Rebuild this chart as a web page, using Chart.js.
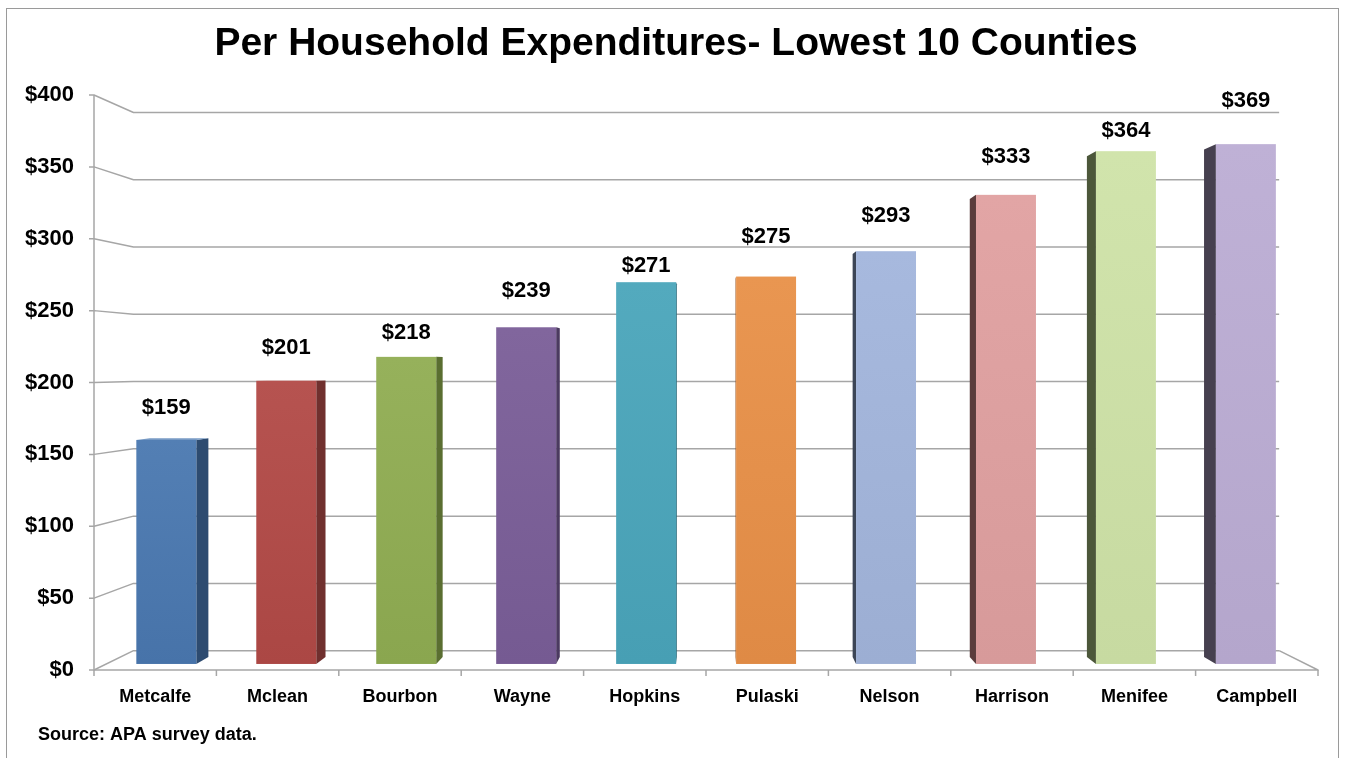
<!DOCTYPE html>
<html>
<head>
<meta charset="utf-8">
<title>Per Household Expenditures</title>
<script src="https://cdn.jsdelivr.net/npm/chart.js@4.4.1/dist/chart.umd.min.js"></script>
<style>
  html, body { margin: 0; padding: 0; background: #fff; }
  canvas { display: block; }
</style>
</head>
<body>
<canvas id="chart_exp" width="1348" height="758"></canvas>
<script>
var counties = ["Metcalfe", "Mclean", "Bourbon", "Wayne", "Hopkins",
  "Pulaski", "Nelson", "Harrison", "Menifee", "Campbell"];
var expenditures = [159, 201, 218, 239, 271, 275, 293, 333, 364, 369];
var yMin = 0;
var yMax = 400;
var yStep = 50;

var chartTitle = "Per Household Expenditures- Lowest 10 Counties";
var sourceNote = "Source: APA survey data.";

// office-style palette, front face and the shaded side
var faceColors = ["#4a78b0", "#b24a47", "#90ad52", "#7a5e98", "#4aa6bb",
  "#e89048", "#a2b5dc", "#e0a0a0", "#cfe3a8", "#bcadd4"];
var sideColors = ["#2d4b70", "#70302e", "#5a6e31", "#4b3a60", "#2d6a7a",
  "#9a5a28", "#3c4556", "#5a3c3c", "#4c573a", "#46404f"];
// how far each value label sits above its bar (px)
var labelLift = [32, 33, 24, 36, 16, 40, 35, 38, 20, 43];

var FONT = '"Liberation Sans", Arial, sans-serif';
Chart.defaults.font.family = FONT;
Chart.defaults.color = "#000";

// depth of each plane relative to the front of the plot
var FACE = 0.98, BACK = 0.957, WALL = 0.936;
var vx = 0, vy = 0;

function proj(x, y, r) {
  return [vx + r * (x - vx), vy + r * (y - vy)];
}

function shade(hex, f) {
  var n = parseInt(hex.slice(1), 16);
  var c = [(n >> 16) & 255, (n >> 8) & 255, n & 255].map(function (v) {
    v = f > 0 ? v + (255 - v) * f : v * (1 + f);
    return Math.round(Math.max(0, Math.min(255, v)));
  });
  return "rgb(" + c.join(",") + ")";
}

function poly(ctx, pts, fill) {
  ctx.beginPath();
  ctx.moveTo(pts[0][0], pts[0][1]);
  for (var i = 1; i < pts.length; i++) ctx.lineTo(pts[i][0], pts[i][1]);
  ctx.closePath();
  ctx.fillStyle = fill;
  ctx.fill();
}

var box3d = {
  id: "box3d",
  beforeDraw: function (chart) {
    var ctx = chart.ctx;
    ctx.save();
    ctx.fillStyle = "#fff";
    ctx.fillRect(0, 0, chart.width, chart.height);
    ctx.strokeStyle = "#9a9a9a";
    ctx.lineWidth = 1;
    ctx.strokeRect(6.5, 8.5, 1332, 800);

    ctx.fillStyle = "#000";
    ctx.font = "bold 39px " + FONT;
    ctx.textAlign = "center";
    ctx.textBaseline = "middle";
    ctx.fillText(chartTitle, 676, 44);
    ctx.restore();
  },
  beforeDatasetsDraw: function (chart) {
    var ctx = chart.ctx, a = chart.chartArea;
    var ys = chart.scales.y;
    vx = a.left + 0.504 * (a.right - a.left);
    vy = a.top + 0.475 * (a.bottom - a.top);

    ctx.save();
    ctx.strokeStyle = "#a6a6a6";
    ctx.lineWidth = 1.5;
    ctx.lineJoin = "round";
    // back wall gridlines, folded over the left wall
    ys.ticks.forEach(function (t) {
      var y = ys.getPixelForValue(t.value);
      var b = proj(a.left, y, WALL), e = proj(a.right, y, WALL);
      ctx.beginPath();
      ctx.moveTo(a.left - 5, y);
      ctx.lineTo(a.left, y);
      ctx.lineTo(b[0], b[1]);
      ctx.lineTo(e[0], e[1]);
      ctx.stroke();
    });
    // front edges of the wall and floor
    var fr = proj(a.right, a.bottom, WALL);
    ctx.beginPath();
    ctx.moveTo(a.left, a.top);
    ctx.lineTo(a.left, a.bottom);
    ctx.lineTo(a.right, a.bottom);
    ctx.lineTo(fr[0], fr[1]);
    ctx.stroke();
    // category tick marks
    var w = (a.right - a.left) / counties.length;
    for (var i = 0; i <= counties.length; i++) {
      var x = a.left + i * w;
      ctx.beginPath();
      ctx.moveTo(x, a.bottom);
      ctx.lineTo(x, a.bottom + 6);
      ctx.stroke();
    }
    ctx.restore();
  },
  afterDatasetsDraw: function (chart) {
    var ctx = chart.ctx;
    var meta = chart.getDatasetMeta(0);
    ctx.save();
    meta.data.forEach(function (bar, i) {
      var p = bar.getProps(["x", "y", "base", "width"], true);
      var x0 = p.x - p.width / 2, x1 = p.x + p.width / 2;
      var yt = p.y, yb = p.base;
      var sx = x1 < vx ? x1 : (x0 > vx ? x0 : null);
      if (sx !== null) {
        poly(ctx, [proj(sx, yt, FACE), proj(sx, yt, BACK),
          proj(sx, yb, BACK), proj(sx, yb, FACE)], sideColors[i]);
      }
      if (yt > vy) {
        poly(ctx, [proj(x0, yt, FACE), proj(x1, yt, FACE),
          proj(x1, yt, BACK), proj(x0, yt, BACK)], shade(faceColors[i], 0.25));
      }
      var tl = proj(x0, yt, FACE), br = proj(x1, yb, FACE);
      var g = ctx.createLinearGradient(0, tl[1], 0, br[1]);
      g.addColorStop(0, shade(faceColors[i], 0.05));
      g.addColorStop(1, shade(faceColors[i], -0.04));
      ctx.fillStyle = g;
      ctx.fillRect(tl[0], tl[1], br[0] - tl[0], br[1] - tl[1]);

      // value label
      var c = proj(p.x, yt, FACE);
      ctx.fillStyle = "#000";
      ctx.font = "bold 22px " + FONT;
      ctx.textAlign = "center";
      ctx.textBaseline = "middle";
      ctx.fillText("$" + expenditures[i], c[0], c[1] - labelLift[i]);
    });

    ctx.font = "bold 18px " + FONT;
    ctx.textAlign = "left";
    ctx.textBaseline = "middle";
    ctx.fillText(sourceNote, 38, 735);
    ctx.restore();
  }
};

var expChart = new Chart(document.getElementById("chart_exp").getContext("2d"), {
  type: "bar",
  data: {
    labels: counties,
    datasets: [
      {
        label: "Per Household Expenditures",
        data: expenditures,
        backgroundColor: "rgba(0,0,0,0)",
        borderWidth: 0,
        barPercentage: 0.5,
        categoryPercentage: 1.0,
      },
    ],
  },
  options: {
    responsive: false,
    animation: false,
    layout: { padding: { left: 0, right: 30, top: 95, bottom: 0 } },
    plugins: {
      legend: { display: false },
      tooltip: { enabled: false },
      title: { display: false },
    },
    scales: {
      x: {
        grid: { display: false, drawTicks: false },
        border: { display: false },
        ticks: { font: { size: 18, weight: "bold" }, padding: 16, maxRotation: 0 },
        afterFit: function (s) { s.height = 88; },
      },
      y: {
        min: yMin,
        max: yMax,
        grid: { display: false, drawTicks: false },
        border: { display: false },
        ticks: {
          stepSize: yStep,
          padding: 20,
          font: { size: 22, weight: "bold" },
          callback: function (v) { return "$" + v; },
        },
        afterFit: function (s) { s.width = 94; },
      },
    },
  },
  plugins: [box3d],
});
</script>
</body>
</html>
